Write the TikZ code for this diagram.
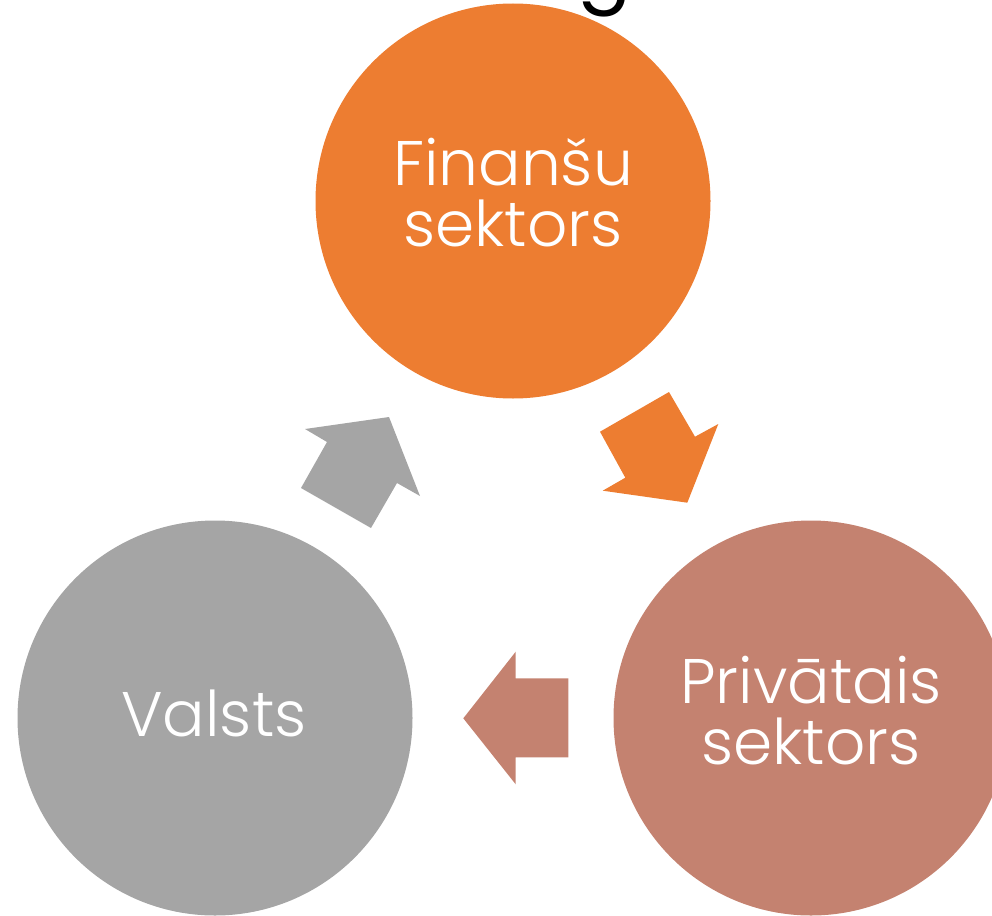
\documentclass[tikz,border=0pt]{standalone}
\usepackage{fontspec}
\IfFontExistsTF{Poppins Light}{\setmainfont{Poppins Light}}{\setmainfont{Poppins}}
\newfontfamily\titlefont{Poppins}
\definecolor{cOrange}{HTML}{ED7D31}
\definecolor{cGray}{HTML}{A5A5A5}
\definecolor{cBrown}{HTML}{C48270}
\tikzset{
  bigcircle/.style={circle, inner sep=0pt, minimum size=395pt, draw=none},
  label text/.style={anchor=base, text=white, inner sep=0pt, font=\fontsize{63}{63}\selectfont},
}
\begin{document}
\begin{tikzpicture}[x=1pt,y=-1pt]
\useasboundingbox (0,0) rectangle (992,915);
% cut-off title fragment
\node[anchor=base, inner sep=0pt, font=\titlefont\fontsize{80}{80}\selectfont] (title) at (605,-4) {g};
% circles
\node[bigcircle, fill=cOrange] (fin) at (513,201) {};
\node[bigcircle, fill=cGray] (val) at (215,718) {};
\node[bigcircle, fill=cBrown] (priv) at (811,718) {};
% texts
\node[label text] (fin1) at (513,185) {Finanšu};
\node[label text] (fin2) at (513,246) {sektors};
\node[label text] (val1) at (214,736) {Valsts};
\node[label text] (priv1) at (811,703) {Privātais};
\node[label text] (priv2) at (811,764) {sektors};
% arrows
\fill[cOrange] (600,431.7) -- (669,392) -- (695,436.7) -- (718.3,424) -- (687.3,502.7) -- (602.7,490.7) -- (625.3,477.7) -- cycle;
\fill[cBrown] (463.3,718.3) -- (515.7,651.7) -- (515.7,678.3) -- (568.3,678.3) -- (568.3,757.3) -- (515.7,757.3) -- (515.7,784.3) -- cycle;
\fill[cGray] (389,417) -- (420,496) -- (397,483) -- (371,528) -- (301,488) -- (327,442) -- (305,429) -- cycle;
\end{tikzpicture}
\end{document}
